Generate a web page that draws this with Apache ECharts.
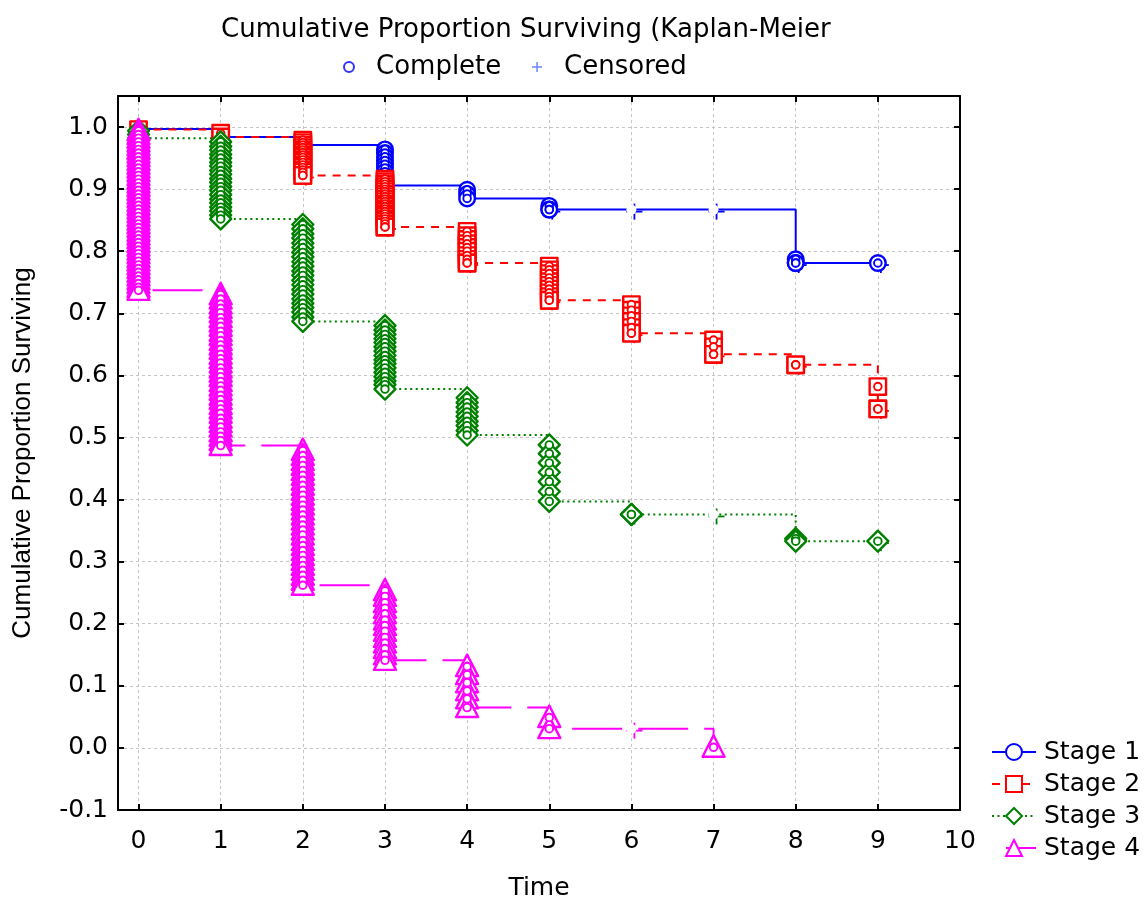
<!DOCTYPE html>
<html>
<head>
<meta charset="utf-8">
<script src="https://cdn.jsdelivr.net/npm/echarts@6/dist/echarts.min.js"></script>
<style>html,body{margin:0;padding:0;background:#fff}#chart{width:1147px;height:899px}</style>
</head>
<body>
<div id="chart"></div>
<script>
// ---------- data ----------
const timePoints = [0, 1, 2, 3, 4, 5, 6, 7, 8, 9];
const xTickValues = [0, 1, 2, 3, 4, 5, 6, 7, 8, 9, 10];
const stageNames = ['Stage 1', 'Stage 2', 'Stage 3', 'Stage 4'];
const markLegend = ['Complete', 'Censored'];

// step levels (survival after each time point)
const stage1Surv = [0.997, 0.984, 0.971, 0.906, 0.885, 0.867, 0.867, 0.867, 0.781, 0.781];
const stage2Surv = [0.996, 0.984, 0.922, 0.839, 0.781, 0.721, 0.668, 0.634, 0.617, 0.546];
const stage3Surv = [0.982, 0.852, 0.687, 0.578, 0.504, 0.397, 0.376, 0.376, 0.333, 0.333];
const stage4Surv = [0.737, 0.487, 0.262, 0.141, 0.065, 0.031, 0.031, 0.001];

// complete observations (one list per time point)
const stage1Complete = [
  [0.997], [0.984], [0.977, 0.971],
  [0.964, 0.958, 0.952, 0.946, 0.940, 0.934, 0.928, 0.922, 0.916, 0.911, 0.906],
  [0.899, 0.892, 0.885], [0.873, 0.867], [], [], [0.787, 0.781], []
];
const stage1Censored = [[], [], [], [], [], [0.867], [], [], [0.781], [0.781]];
const stage1CensoredOnly = [[], [], [], [], [], [], [0.867], [0.867], [], []];

const stage2Complete = [
  [0.996],
  [0.990, 0.984],
  [0.979, 0.975, 0.971, 0.967, 0.963, 0.959, 0.955, 0.951, 0.947, 0.943, 0.939, 0.935, 0.931, 0.927, 0.922],
  [0.916, 0.912, 0.908, 0.904, 0.900, 0.896, 0.892, 0.888, 0.884, 0.880, 0.876, 0.872, 0.868, 0.864, 0.860, 0.856, 0.852, 0.848, 0.844, 0.839],
  [0.832, 0.825, 0.819, 0.812, 0.806, 0.800, 0.793, 0.787, 0.781],
  [0.776, 0.770, 0.764, 0.757, 0.751, 0.745, 0.739, 0.733, 0.727, 0.721],
  [0.714, 0.705, 0.696, 0.687, 0.677, 0.668],
  [0.657, 0.646, 0.634],
  [0.617],
  [0.582, 0.546]
];
const stage2Censored = [[], [], [0.922], [0.839], [0.781], [0.721], [0.668], [0.634], [0.617], [0.546]];
const stage2CensoredOnly = [[], [], [], [], [], [], [], [], [], []];

const stage3Complete = [
  [0.994, 0.988, 0.982],
  [0.976, 0.969, 0.963, 0.956, 0.950, 0.943, 0.937, 0.930, 0.924, 0.917, 0.911, 0.904, 0.898, 0.891, 0.884, 0.878, 0.871, 0.865, 0.858, 0.852],
  [0.843, 0.836, 0.828, 0.821, 0.813, 0.806, 0.798, 0.791, 0.783, 0.776, 0.768, 0.761, 0.753, 0.746, 0.738, 0.731, 0.723, 0.716, 0.709, 0.702, 0.694, 0.687],
  [0.680, 0.673, 0.666, 0.659, 0.653, 0.646, 0.639, 0.632, 0.625, 0.619, 0.612, 0.605, 0.598, 0.591, 0.585, 0.578],
  [0.564, 0.556, 0.549, 0.541, 0.534, 0.526, 0.519, 0.511, 0.504],
  [0.488, 0.474, 0.459, 0.444, 0.429, 0.413, 0.397],
  [0.376],
  [],
  [0.337, 0.333],
  []
];
const stage3Censored = [[], [], [], [], [], [], [0.376], [], [], [0.333]];
const stage3CensoredOnly = [[], [], [], [], [], [], [], [0.376], [], []];

const stage4Complete = [
  [0.994, 0.988, 0.982, 0.976, 0.970, 0.964, 0.958, 0.952, 0.946, 0.940, 0.934, 0.928, 0.922, 0.916, 0.910,
   0.904, 0.898, 0.892, 0.886, 0.880, 0.874, 0.868, 0.862, 0.856, 0.850, 0.844, 0.838, 0.832, 0.826, 0.820,
   0.814, 0.808, 0.802, 0.796, 0.790, 0.784, 0.778, 0.772, 0.766, 0.760, 0.754, 0.748, 0.742, 0.737],
  [0.730, 0.723, 0.715, 0.708, 0.701, 0.693, 0.686, 0.679, 0.671, 0.664, 0.656, 0.649, 0.642, 0.634, 0.627,
   0.620, 0.612, 0.605, 0.598, 0.590, 0.583, 0.576, 0.568, 0.561, 0.553, 0.546, 0.539, 0.531, 0.524, 0.517,
   0.509, 0.502, 0.495, 0.487],
  [0.479, 0.471, 0.463, 0.455, 0.447, 0.439, 0.431, 0.423, 0.415, 0.407, 0.399, 0.391, 0.383, 0.375, 0.367,
   0.359, 0.351, 0.343, 0.334, 0.326, 0.318, 0.310, 0.302, 0.294, 0.286, 0.278, 0.270, 0.262],
  [0.253, 0.244, 0.234, 0.225, 0.216, 0.206, 0.197, 0.188, 0.178, 0.169, 0.160, 0.150, 0.141],
  [0.131, 0.118, 0.105, 0.092, 0.079, 0.065],
  [0.049, 0.031],
  [],
  [0.001]
];
const stage4Censored = [[], [], [], [], [], [], [], []];
const stage4CensoredOnly = [[], [], [], [], [], [], [0.031], []];

// ---------- styles ----------
const COLORS = ['#0000ff', '#ff0000', '#008000', '#ff00ff'];
const SHAPES = ['circle', 'rect', 'diamond', 'triangle'];
const LEGEND_SYMBOLS = ['emptyCircle', 'emptyRect', 'emptyDiamond', 'emptyTriangle'];
const LINE_TYPES = ['solid', [8, 7], [2, 3.5], [50, 16]];
const LINE_OFFSETS = [0, 0, 0, 52];

function buildMarks(complete, censored, censoredOnly) {
  const out = [];
  timePoints.forEach((t, i) => {
    (complete[i] || []).forEach(v => out.push([t, v, 0]));
    (censored[i] || []).forEach(v => out.push([t, v, 1]));
    (censoredOnly[i] || []).forEach(v => out.push([t, v, 2]));
  });
  return out;
}

// layer 'shape': outer symbol (+ censor cross); layer 'inner': small "o" of each case
function markerRenderer(shape, color, layer) {
  return function (params, api) {
    const p = api.coord([api.value(0), api.value(1)]);
    const x = p[0], y = p[1];
    const kind = api.value(2);
    if (layer === 'inner') {
      if (kind === 2) return null;
      return { type: 'circle', shape: { cx: x, cy: y, r: 3.8 }, style: { fill: '#fff', stroke: color, lineWidth: 1.9 } };
    }
    const plus = [
      { type: 'line', shape: { x1: x + 3, y1: y - 6, x2: x + 3, y2: y + 10 }, style: { stroke: color, lineWidth: 1.8 } },
      { type: 'line', shape: { x1: x - 5, y1: y + 2, x2: x + 11, y2: y + 2 }, style: { stroke: color, lineWidth: 1.8 } }
    ];
    if (kind === 2) {
      return { type: 'group', children: plus.concat([{ type: 'circle', shape: { cx: x, cy: y, r: 5 }, style: { fill: '#fff' } }]) };
    }
    const children = kind === 1 ? plus.slice() : [];
    let outer;
    if (shape === 'circle') outer = { type: 'circle', shape: { cx: x, cy: y, r: 7.8 } };
    else if (shape === 'rect') outer = { type: 'rect', shape: { x: x - 8.2, y: y - 8.2, width: 16.4, height: 16.4 } };
    else if (shape === 'diamond') outer = { type: 'polygon', shape: { points: [[x, y - 10.5], [x + 10.5, y], [x, y + 10.5], [x - 10.5, y]] } };
    else outer = { type: 'polygon', shape: { points: [[x, y - 12], [x + 11, y + 9.5], [x - 11, y + 9.5]] } };
    outer.style = { fill: '#fff', stroke: color, lineWidth: 2.4, lineJoin: 'round' };
    children.push(outer);
    return { type: 'group', children };
  };
}

const survs = [stage1Surv, stage2Surv, stage3Surv, stage4Surv];
const marks = [
  buildMarks(stage1Complete, stage1Censored, stage1CensoredOnly),
  buildMarks(stage2Complete, stage2Censored, stage2CensoredOnly),
  buildMarks(stage3Complete, stage3Censored, stage3CensoredOnly),
  buildMarks(stage4Complete, stage4Censored, stage4CensoredOnly)
];

const series = [];
survs.forEach((s, k) => {
  series.push({
    type: 'line', name: stageNames[k], step: 'end',
    data: s.map((v, i) => [timePoints[i], v]),
    showSymbol: false, symbol: LEGEND_SYMBOLS[k], symbolSize: 16,
    itemStyle: { color: COLORS[k] },
    lineStyle: { color: COLORS[k], width: 2, type: LINE_TYPES[k], dashOffset: LINE_OFFSETS[k], cap: 'butt' },
    z: 2, silent: true
  });
});
marks.forEach((m, k) => {
  ['shape', 'inner'].forEach(layer => {
    series.push({
      type: 'custom', name: stageNames[k] + ' ' + layer,
      renderItem: markerRenderer(SHAPES[k], COLORS[k], layer),
      data: m, encode: { x: 0, y: 1 }, z: 3, silent: true
    });
  });
});
series.push({ type: 'scatter', name: 'Complete', data: [], symbol: 'emptyCircle', itemStyle: { color: '#0000ff' } });
series.push({ type: 'scatter', name: 'Censored', data: [], symbol: 'path://M5,0L5,10M0,5L10,5',
  itemStyle: { color: '#0000ff', borderColor: '#0000ff', borderWidth: 1.5 } });

const axisLineStyle = { color: '#000', width: 2 };
const gridLine = { show: true, lineStyle: { color: '#c4c4c4', type: [3, 3], width: 1 } };

const option = {
  animation: false,
  backgroundColor: '#fff',
  textStyle: { fontFamily: 'DejaVu Sans' },
  title: {
    text: 'Cumulative Proportion Surviving (Kaplan-Meier',
    left: 216, top: 12,
    textStyle: { fontFamily: 'DejaVu Sans', fontSize: 26, fontWeight: 'normal', color: '#000' }
  },
  legend: [
    {
      data: stageNames, orient: 'vertical', left: 986, top: 731,
      itemWidth: 44, itemHeight: 20, itemGap: 0, selectedMode: false,
      textStyle: { fontFamily: 'DejaVu Sans', fontSize: 25, color: '#000', lineHeight: 32, padding: [0, 0, 0, 3] }
    },
    {
      data: [
        { name: markLegend[0] },
        { name: markLegend[1], itemStyle: { color: 'transparent', borderColor: '#4466ff', borderWidth: 1.5 } }
      ],
      orient: 'horizontal', left: 338, top: 47,
      itemWidth: 10, itemHeight: 10, itemGap: 30, selectedMode: false,
      textStyle: { fontFamily: 'DejaVu Sans', fontSize: 26, color: '#000', lineHeight: 30, padding: [0, 0, 0, 17] }
    }
  ],
  grid: { left: 118, right: 187, top: 96, bottom: 89, containLabel: false, outerBoundsMode: 'none' },
  xAxis: [
    {
      type: 'value', min: -0.25, max: 10, position: 'bottom',
      name: 'Time', nameLocation: 'middle', nameGap: 66,
      nameTextStyle: { fontFamily: 'DejaVu Sans', fontSize: 25, color: '#000' },
      axisLine: { show: true, onZero: false, lineStyle: axisLineStyle },
      axisTick: { show: true, inside: true, length: 6, lineStyle: axisLineStyle, customValues: xTickValues },
      axisLabel: { show: true, margin: 19, fontFamily: 'DejaVu Sans', fontSize: 25, color: '#000', customValues: xTickValues },
      splitLine: gridLine
    },
    {
      type: 'value', min: -0.25, max: 10, position: 'top',
      axisLine: { show: true, onZero: false, lineStyle: axisLineStyle },
      axisTick: { show: true, inside: true, length: 6, lineStyle: axisLineStyle, customValues: xTickValues },
      axisLabel: { show: false, customValues: xTickValues },
      splitLine: { show: false }
    }
  ],
  yAxis: [
    {
      type: 'value', min: -0.1, max: 1.05, interval: 0.1, position: 'left',
      name: 'Cumulative Proportion Surviving', nameLocation: 'middle', nameGap: 82,
      nameTextStyle: { fontFamily: 'Liberation Sans', fontSize: 26, color: '#000' },
      axisLine: { show: true, onZero: false, lineStyle: axisLineStyle },
      axisTick: { show: true, inside: true, length: 6, lineStyle: axisLineStyle },
      axisLabel: {
        show: true, margin: 10, fontFamily: 'DejaVu Sans', fontSize: 25, color: '#000', showMaxLabel: false,
        formatter: v => (v > 1.01 ? '' : v.toFixed(1))
      },
      splitLine: gridLine
    },
    {
      type: 'value', min: -0.1, max: 1.05, interval: 0.1, position: 'right',
      axisLine: { show: true, onZero: false, lineStyle: axisLineStyle },
      axisTick: { show: true, inside: true, length: 6, lineStyle: axisLineStyle },
      axisLabel: { show: false },
      splitLine: { show: false }
    }
  ],
  series: series
};

const chart = echarts.init(document.getElementById('chart'), null, { renderer: 'canvas' });
chart.setOption(option);
</script>
</body>
</html>
